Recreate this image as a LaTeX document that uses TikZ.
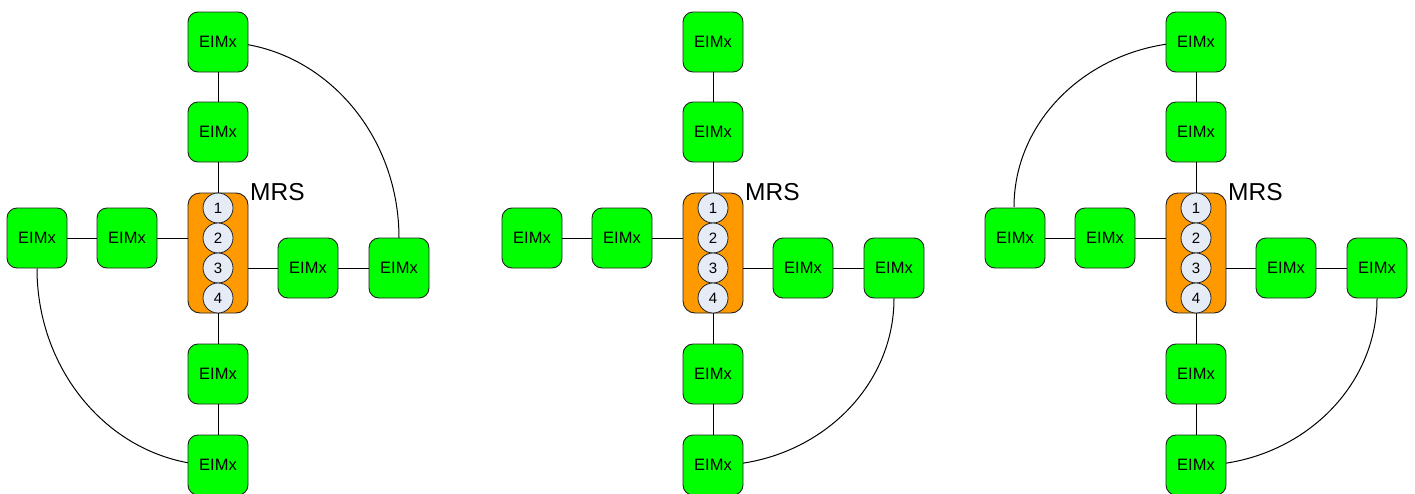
\documentclass[tikz,border=0pt]{standalone}
\usepackage{fontspec}
\setmainfont{Liberation Sans}
\usetikzlibrary{backgrounds}
\definecolor{eimgreen}{HTML}{00FF00}
\definecolor{mrsorange}{HTML}{FF9900}
\definecolor{portfill}{HTML}{E6ECF5}
\definecolor{edgegray}{HTML}{222222}
\tikzset{
  eim/.style={draw=edgegray, fill=eimgreen, rounded corners=10pt, minimum width=60pt,
    minimum height=60pt, inner sep=0pt, font=\fontsize{16.5}{18}\selectfont, line width=0.9pt},
  mrsbox/.style={draw=edgegray, fill=mrsorange, rounded corners=12pt, minimum width=60pt,
    minimum height=120pt, inner sep=0pt, line width=0.9pt},
  port/.style={circle, draw=edgegray, fill=portfill, minimum size=30pt, inner sep=0pt,
    font=\fontsize{15}{16}\selectfont, line width=0.8pt},
  link/.style={draw=black, line width=1pt},
  mrslabel/.style={anchor=base west, inner sep=0pt, font=\fontsize{24.5}{26}\selectfont},
}
\newcommand\mrsunit[2]{%
  \begin{scope}[xshift=#2pt]
    \node[mrsbox] (#1m) at (218,253) {};
    \node[port] (#1pa) at (218,208) {1};
    \node[port] (#1pb) at (218,238) {2};
    \node[port] (#1pc) at (218,268) {3};
    \node[port] (#1pd) at (218,298) {4};
    \node[mrslabel] (#1lab) at (250,200) {MRS};
    \node[eim] (#1t1) at (218,42) {EIMx};
    \node[eim] (#1t2) at (218,132) {EIMx};
    \node[eim] (#1l1) at (37,238) {EIMx};
    \node[eim] (#1l2) at (127,238) {EIMx};
    \node[eim] (#1r1) at (308,268) {EIMx};
    \node[eim] (#1r2) at (399,268) {EIMx};
    \node[eim] (#1b1) at (218,374) {EIMx};
    \node[eim] (#1b2) at (218,465) {EIMx};
    \draw[link] (#1t1) -- (#1t2);
    \draw[link] (#1t2) -- (#1m);
    \draw[link] (#1l1) -- (#1l2);
    \draw[link] (#1l2.east) -- (#1l2.east -| #1m.west);
    \draw[link] (#1r1.west -| #1m.east) -- (#1r1.west);
    \draw[link] (#1r1) -- (#1r2);
    \draw[link] (#1m) -- (#1b1);
    \draw[link] (#1b1) -- (#1b2);
  \end{scope}}
\begin{document}
\begin{tikzpicture}[x=1pt,y=-1pt]
  \useasboundingbox (0,0) rectangle (1415,493);
  \mrsunit{a}{0}
  \mrsunit{b}{495}
  \mrsunit{c}{978}
  \begin{scope}[on background layer]
    \draw[link] (at1.center) arc[start angle=90, end angle=0, x radius=181pt, y radius=196pt];
    \draw[link] (al1.south) arc[start angle=180, end angle=270, x radius=181pt, y radius=197pt];
    \draw[link] (br2.south) arc[start angle=0, end angle=-90, x radius=181pt, y radius=167pt];
    \draw[link] (ct1.center) arc[start angle=90, end angle=180, x radius=182pt, y radius=165pt];
    \draw[link] (cr2.south) arc[start angle=0, end angle=-90, x radius=181pt, y radius=167pt];
  \end{scope}
\end{tikzpicture}
\end{document}
